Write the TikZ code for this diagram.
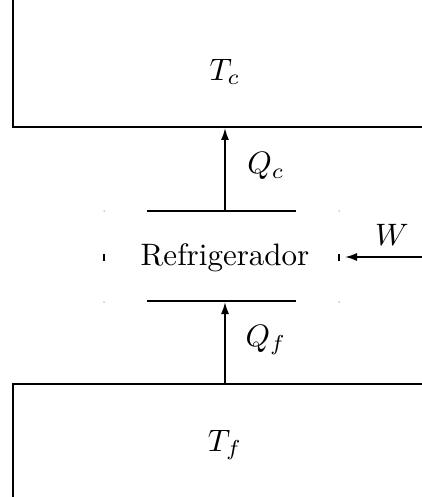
\documentclass[tikz,border=0pt]{standalone}
\usepackage{graphicx}
\usetikzlibrary{arrows.meta}
\newcommand{\mybigtxt}[1]{\scalebox{3.1}{#1}}
\begin{document}
\begin{tikzpicture}[x=1pt,y=-1pt,
  ln/.style={line width=1.7pt},
  arr/.style={line width=1.7pt,-{Latex[length=12pt,width=8pt]}},
  lbl/.style={inner sep=0pt}]
\useasboundingbox (0,0) rectangle (422,497);
% top reservoir
\coordinate (tl) at (13,0);
\coordinate (tc) at (13,127);
\coordinate (tr) at (422,127);
\draw[ln] (tl) -- (tc) -- (tr);
\node[lbl] (Tc) at (225,72) {\mybigtxt{$T_c$}};
% bottom reservoir
\coordinate (bl) at (13,497);
\coordinate (bc) at (13,384);
\coordinate (br) at (422,384);
\draw[ln] (bl) -- (bc) -- (br);
\node[lbl] (Tf) at (225,445) {\mybigtxt{$T_f$}};
% refrigerator
\node[lbl] (ref) at (225,258) {\mybigtxt{Refrigerador}};
\coordinate (r1l) at (147,211);
\coordinate (r1r) at (296,211);
\coordinate (r2l) at (147,301);
\coordinate (r2r) at (296,301);
\draw[ln] (r1l) -- (r1r);
\draw[ln] (r2l) -- (r2r);
% ticks
\coordinate (kl1) at (104,254); \coordinate (kl2) at (104,261);
\coordinate (kr1) at (339,254); \coordinate (kr2) at (339,261);
\draw[line width=1.2pt] (kl1) -- (kl2);
\draw[line width=1.2pt] (kr1) -- (kr2);
\fill[blue] (104,211) circle (0.5);
\fill[blue] (339,211) circle (0.5);
\fill[blue] (104,302) circle (0.5);
\fill[blue] (339,302) circle (0.5);
% arrows
\coordinate (qcs) at (225,211);
\coordinate (qce) at (225,128);
\draw[arr] (qcs) -- (qce);
\node[lbl] (Qc) at (266,166) {\mybigtxt{$Q_c$}};
\coordinate (qfs) at (225,384);
\coordinate (qfe) at (225,302);
\draw[arr] (qfs) -- (qfe);
\node[lbl] (Qf) at (266,340) {\mybigtxt{$Q_f$}};
\coordinate (ws) at (422,257);
\coordinate (we) at (345,257);
\draw[arr] (ws) -- (we);
\node[lbl] (W) at (392,235) {\mybigtxt{$W$}};
\end{tikzpicture}
\end{document}
